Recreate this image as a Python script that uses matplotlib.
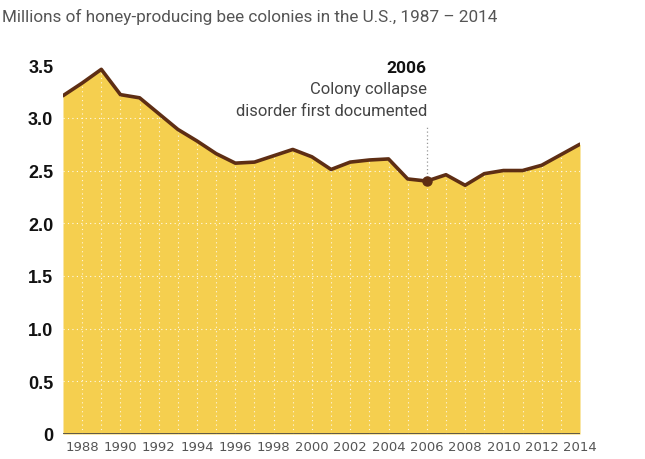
import matplotlib
matplotlib.use("Agg")
import matplotlib.pyplot as plt

years = list(range(1987, 2015))
colonies = [3.21, 3.33, 3.46, 3.22, 3.19, 3.04, 2.89, 2.78, 2.66, 2.57, 2.58,
            2.64, 2.70, 2.63, 2.51, 2.58, 2.60, 2.61, 2.42, 2.40, 2.46, 2.36,
            2.47, 2.50, 2.50, 2.55, 2.65, 2.75]
xtick_years = list(range(1988, 2015, 2))
ytick_vals = [0, 0.5, 1.0, 1.5, 2.0, 2.5, 3.0, 3.5]
ytick_labels = ["0", "0.5", "1.0", "1.5", "2.0", "2.5", "3.0", "3.5"]
event_year = 2006

fill_col = "#F5CF4F"
line_col = "#5E2E14"

fig = plt.figure(figsize=(6.45, 4.6), dpi=100)
ax = fig.add_axes([63 / 645, 1 - 435 / 460, (580 - 63) / 645, (435 - 55.6) / 460])

ax.fill_between(years, colonies, 0, color=fill_col, lw=0, zorder=1)

# dotted white grid drawn over the fill
for yr in years[1:-1]:
    ax.axvline(yr, color="white", ls=(0, (1, 3)), lw=0.8, alpha=0.85, zorder=2)
for v in ytick_vals[1:]:
    ax.axhline(v, color="white", ls=(0, (1, 3)), lw=0.8, alpha=0.9, zorder=2)

ax.plot(years, colonies, color=line_col, lw=2.6, solid_joinstyle="round",
        solid_capstyle="round", zorder=4)
ax.axhline(0, color="#444444", lw=1.2, zorder=5)

# annotation
ev = colonies[years.index(event_year)]
ax.plot([event_year], [ev], "o", color=line_col, ms=6.5, zorder=6)
ax.plot([event_year, event_year], [ev, 2.91], color="#999999", ls=(0, (1, 2)),
        lw=0.9, zorder=3)
ax.text(event_year, 3.48, "2006", ha="right", va="center", fontsize=12.5,
        fontweight="bold", color="#111111", family="Roboto")
ax.text(event_year, 3.28, "Colony collapse", ha="right", va="center",
        fontsize=12, color="#444444", family="Roboto")
ax.text(event_year, 3.07, "disorder first documented", ha="right", va="center",
        fontsize=12, color="#444444", family="Roboto")

ax.set_xlim(1987, 2014)
ax.set_ylim(0, 3.6)
ax.set_xticks(xtick_years)
ax.set_xticklabels([str(y) for y in xtick_years], fontsize=9.5, color="#555555",
                   family=["Liberation Sans Narrow", "DejaVu Sans"])
ax.set_yticks(ytick_vals)
ax.set_yticklabels(ytick_labels, fontsize=13, fontweight="bold", color="#111111",
                   family="Liberation Sans")
ax.tick_params(length=0, pad=4)
ax.tick_params(axis="y", pad=7)
for s in ax.spines.values():
    s.set_visible(False)

fig.text(0.003, 1 - 17 / 460, "Millions of honey-producing bee colonies in the U.S., 1987 \u2013 2014",
         ha="left", va="center", fontsize=12.3, color="#555555", family="Roboto")

fig.savefig("out.png", dpi=100)
